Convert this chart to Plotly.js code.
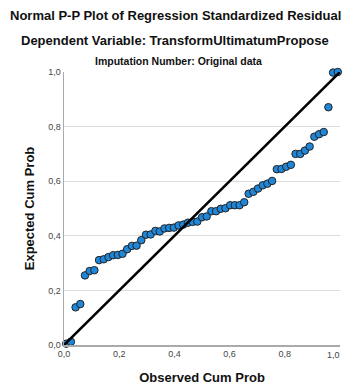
<!DOCTYPE html>
<html>
<head>
<meta charset="utf-8">
<script src="https://cdn.plot.ly/plotly-3.0.1.min.js"></script>
<style>html,body{margin:0;padding:0;background:#fff;}#chart{width:342px;height:387px;}</style>
</head>
<body>
<div id="chart"></div>
<script>
const observedCumProb = [0.008,0.025,0.042,0.059,0.076,0.093,0.110,0.127,0.144,0.161,
  0.178,0.195,0.212,0.229,0.246,0.263,0.280,0.297,0.314,0.331,
  0.347,0.364,0.381,0.398,0.415,0.432,0.449,0.466,0.483,0.500,
  0.517,0.534,0.551,0.568,0.585,0.602,0.619,0.636,0.653,0.669,
  0.686,0.703,0.720,0.737,0.754,0.771,0.788,0.805,0.822,0.839,
  0.856,0.873,0.890,0.907,0.924,0.941,0.958,0.975,0.992];
const expectedCumProb = [0.005,0.012,0.138,0.150,0.255,0.271,0.274,0.311,0.314,0.322,
  0.329,0.330,0.334,0.351,0.363,0.364,0.384,0.404,0.405,0.418,
  0.416,0.427,0.429,0.430,0.438,0.441,0.448,0.451,0.452,0.468,
  0.471,0.490,0.490,0.499,0.501,0.512,0.512,0.512,0.523,0.554,
  0.561,0.573,0.585,0.591,0.601,0.644,0.645,0.653,0.660,0.700,
  0.700,0.712,0.727,0.763,0.772,0.780,0.871,0.998,1.000];
const refLineX = [0, 1];
const refLineY = [0, 1];
const tickVals = [0, 0.2, 0.4, 0.6, 0.8, 1.0];
const tickLabels = ['0,0', '0,2', '0,4', '0,6', '0,8', '1,0'];
// last x tick label is drawn as an annotation so it stays inside the picture
const xTickLabels = ['0,0', '0,2', '0,4', '0,6', '0,8', ''];

const font = 'Liberation Sans, Arial, sans-serif';
const tickFont = {family: font, size: 9, color: '#444'};
const traces = [
  {x: observedCumProb, y: expectedCumProb, type: 'scatter', mode: 'markers',
   marker: {size: 7.5, color: '#1f86d8', line: {color: '#222', width: 1}},
   cliponaxis: false, hoverinfo: 'skip'},
  {x: refLineX, y: refLineY, type: 'scatter', mode: 'lines',
   line: {color: '#000', width: 2.6}, cliponaxis: false, hoverinfo: 'skip'}
];
const axisCommon = {
  range: [0, 1], tickvals: tickVals,
  showline: true, linecolor: '#aaaaaa', linewidth: 1.5,
  ticks: '', zeroline: false, fixedrange: true,
  tickfont: tickFont
};
const layout = {
  width: 342, height: 387,
  margin: {l: 64, r: 2, t: 72, b: 42},
  paper_bgcolor: '#fff', plot_bgcolor: '#fff',
  showlegend: false,
  font: {family: font},
  xaxis: Object.assign({}, axisCommon, {showgrid: false, ticktext: xTickLabels,
    title: {text: 'Observed Cum Prob', font: {family: font, size: 13, color: '#111', weight: 'bold'}, standoff: 14}}),
  yaxis: Object.assign({}, axisCommon, {showgrid: true, gridcolor: '#dddddd', gridwidth: 1, ticktext: tickLabels,
    title: {text: 'Expected Cum Prob', font: {family: font, size: 13, color: '#111', weight: 'bold'}, standoff: 10}}),
  annotations: [
    {text: '<b>Normal P-P Plot of Regression Standardized Residual</b>', xref: 'paper', yref: 'paper',
     x: 0.5, y: 1, xshift: -27, yshift: 57, showarrow: false, xanchor: 'center', yanchor: 'middle',
     font: {family: font, size: 13, color: '#111'}},
    {text: '<b>Dependent Variable: TransformUltimatumPropose</b>', xref: 'paper', yref: 'paper',
     x: 0.5, y: 1, xshift: -27, yshift: 32, showarrow: false, xanchor: 'center', yanchor: 'middle',
     font: {family: font, size: 13, color: '#111'}},
    {text: '<b>Imputation Number: Original data</b>', xref: 'paper', yref: 'paper',
     x: 0.5, y: 1, xshift: -24, yshift: 11, showarrow: false, xanchor: 'center', yanchor: 'middle',
     font: {family: font, size: 10.5, color: '#111'}},
    {text: tickLabels[5], xref: 'x', yref: 'paper', x: tickVals[5], y: 0, xshift: 2, yshift: -3,
     showarrow: false, xanchor: 'right', yanchor: 'top', font: tickFont}
  ]
};
Plotly.newPlot('chart', traces, layout, {displayModeBar: false, staticPlot: true});
</script>
</body>
</html>
